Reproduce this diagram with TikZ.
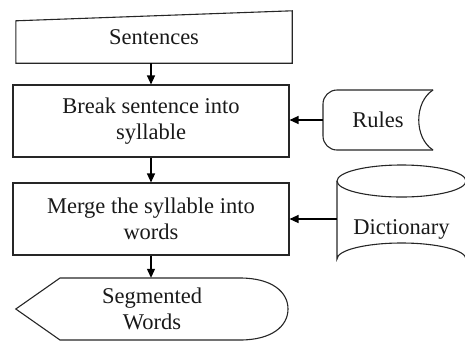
\documentclass[tikz,border=0pt]{standalone}
\usepackage{fontspec}
\setmainfont{Liberation Serif}
\usetikzlibrary{arrows.meta,calc}
\begin{document}
\begin{tikzpicture}[x=1pt,y=-1pt,
  shapeline/.style={draw=black!85,line width=1.1pt},
  txt/.style={font=\fontsize{22.5}{26}\selectfont,align=center,inner sep=0pt,text=black!90},
  conn/.style={draw=black,line width=1.2pt,-{Triangle[width=8pt,length=9pt]}}]
\useasboundingbox (0,0) rectangle (465,341);
% Sentences (manual input)
\node[txt,minimum width=276,minimum height=52] (sent) at (154,37) {\raisebox{-3pt}{Sentences}};
\draw[shapeline] (sent.south west) -- (sent.south east) -- (sent.north east) -- ($(sent.north west)+(0,10)$) -- cycle;
% Break sentence
\node[txt,shapeline,minimum width=276,minimum height=72] (brk) at (151,121) {Break sentence into\\syllable};
% Merge
\node[txt,shapeline,minimum width=276,minimum height=72] (mrg) at (151,219) {Merge the syllable into\\words};
% Segmented words (display)
\node[txt,minimum width=272,minimum height=62] (seg) at (152,309) {Segmented\\Words};
\draw[shapeline] (seg.west) -- (60,278) -- (240,278) .. controls (272,278) and (288,292) .. (288,309)
  .. controls (288,326) and (272,340) .. (240,340) -- (60,340) -- cycle;
% Rules (stored data)
\node[txt,minimum width=110,minimum height=60] (rules) at (378,120) {Rules};
\draw[shapeline,rounded corners=14pt] (433,90) -- (323,90) -- (323,150) -- (433,150);
\draw[shapeline] (433,90) .. controls (414,102) and (414,138) .. (433,150);
% Dictionary (cylinder)
\node[txt,minimum width=129,minimum height=80] (dict) at (401.5,229) {Dictionary};
\draw[shapeline] (401.5,181) ellipse [x radius=64.5, y radius=16];
\draw[shapeline] (337,181) -- (337,259) arc[start angle=180,end angle=360,x radius=64.5,y radius=16] -- (466,181);
% connectors
\draw[conn] (brk.north |- sent.south) -- (brk.north);
\draw[conn] (brk.south) -- (mrg.north);
\draw[conn] (mrg.south) -- (mrg.south |- seg.north);
\draw[conn] (rules.west) -- (rules.west -| brk.east);
\draw[conn] (dict.west |- mrg.east) -- (mrg.east);
\end{tikzpicture}
\end{document}
